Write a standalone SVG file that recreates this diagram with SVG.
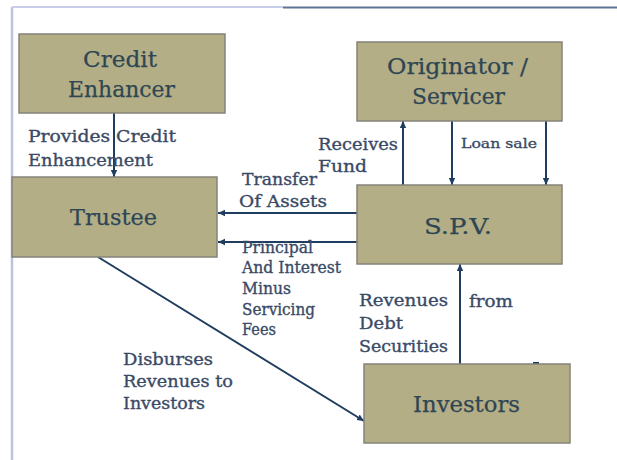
<svg xmlns="http://www.w3.org/2000/svg" width="617" height="460" viewBox="0 0 617 460">
<style>
.box{fill:#b4ae87;stroke:#85837a;stroke-width:1.5}
.bt{font-family:"DejaVu Serif","Liberation Serif",serif;font-size:23px;fill:#2e4653;stroke:#2e4653;stroke-width:0.25;text-anchor:middle}
.lb{font-family:"DejaVu Serif","Liberation Serif",serif;font-size:16px;fill:#3a4a66;stroke:#3a4a66;stroke-width:0.35}
.cn{stroke:#1f3d5e;stroke-width:2;fill:none;marker-end:url(#ah)}
</style>
<defs>
<marker id="ah" markerUnits="userSpaceOnUse" markerWidth="8" markerHeight="8" refX="7" refY="4" orient="auto">
<path d="M0,0.8 L7,4 L0,7.2 z" fill="#1f3d5e"/>
</marker>
</defs>
<rect width="617" height="460" fill="#ffffff"/>
<g id="frame">
<line x1="12" y1="7" x2="12" y2="460" stroke="#bcc3e2" stroke-width="2.5"/>
<line x1="12" y1="7" x2="283" y2="7" stroke="#c9cee8" stroke-width="2"/>
<line x1="283" y1="7.5" x2="617" y2="7.5" stroke="#5f7392" stroke-width="2.2"/>
</g>
<g id="connectors">
<line class="cn" x1="114" y1="113" x2="114" y2="177"/>
<line class="cn" x1="357" y1="213" x2="218" y2="213"/>
<line class="cn" x1="357" y1="242" x2="218" y2="242"/>
<line class="cn" x1="403" y1="185" x2="403" y2="121"/>
<line class="cn" x1="452" y1="121" x2="452" y2="185"/>
<line class="cn" x1="546" y1="121" x2="546" y2="185"/>
<line class="cn" x1="460" y1="364" x2="460" y2="264"/>
<line class="cn" x1="98" y1="257" x2="364" y2="421"/>
<line x1="533" y1="363" x2="539" y2="363" stroke="#1f3d5e" stroke-width="2"/>
</g>
<g id="credit-enhancer">
<rect class="box" x="19" y="34" width="206" height="79"/>
<text class="bt" x="120" y="67" textLength="74" lengthAdjust="spacingAndGlyphs">Credit</text>
<text class="bt" x="121.5" y="97" textLength="107" lengthAdjust="spacingAndGlyphs">Enhancer</text>
</g>
<g id="originator">
<rect class="box" x="357" y="42" width="205" height="79"/>
<text class="bt" x="457.5" y="74" textLength="141" lengthAdjust="spacingAndGlyphs">Originator /</text>
<text class="bt" x="458.5" y="104" textLength="93" lengthAdjust="spacingAndGlyphs">Servicer</text>
</g>
<g id="trustee">
<rect class="box" x="12" y="177" width="205" height="80"/>
<text class="bt" x="113.5" y="225" textLength="87" lengthAdjust="spacingAndGlyphs">Trustee</text>
</g>
<g id="spv">
<rect class="box" x="357" y="185" width="205" height="79"/>
<text class="bt" x="458" y="234" textLength="68" lengthAdjust="spacingAndGlyphs">S.P.V.</text>
</g>
<g id="investors">
<rect class="box" x="364" y="364" width="206" height="79"/>
<text class="bt" x="466.5" y="412" textLength="107" lengthAdjust="spacingAndGlyphs">Investors</text>
</g>
<g id="labels">
<text class="lb" x="28" y="142" textLength="148" lengthAdjust="spacingAndGlyphs">Provides Credit</text>
<text class="lb" x="28" y="166" textLength="125" lengthAdjust="spacingAndGlyphs">Enhancement</text>
<text class="lb" x="318" y="150" textLength="80" lengthAdjust="spacingAndGlyphs">Receives</text>
<text class="lb" x="318" y="172" textLength="49" lengthAdjust="spacingAndGlyphs">Fund</text>
<text class="lb" x="461" y="148" style="font-size:13.5px" textLength="76" lengthAdjust="spacingAndGlyphs">Loan sale</text>
<text class="lb" x="242" y="185" textLength="75" lengthAdjust="spacingAndGlyphs">Transfer</text>
<text class="lb" x="239" y="207" textLength="88" lengthAdjust="spacingAndGlyphs">Of Assets</text>
<text class="lb" x="242" y="253" textLength="71" lengthAdjust="spacingAndGlyphs">Principal</text>
<text class="lb" x="242" y="273" textLength="99" lengthAdjust="spacingAndGlyphs">And Interest</text>
<text class="lb" x="242" y="294" textLength="49" lengthAdjust="spacingAndGlyphs">Minus</text>
<text class="lb" x="242" y="315" textLength="73" lengthAdjust="spacingAndGlyphs">Servicing</text>
<text class="lb" x="242" y="335" textLength="34" lengthAdjust="spacingAndGlyphs">Fees</text>
<text class="lb" x="359" y="306" textLength="89" lengthAdjust="spacingAndGlyphs">Revenues</text>
<text class="lb" x="469" y="307" textLength="44" lengthAdjust="spacingAndGlyphs">from</text>
<text class="lb" x="359" y="329" textLength="44" lengthAdjust="spacingAndGlyphs">Debt</text>
<text class="lb" x="359" y="352" textLength="89" lengthAdjust="spacingAndGlyphs">Securities</text>
<text class="lb" x="123" y="365" textLength="90" lengthAdjust="spacingAndGlyphs">Disburses</text>
<text class="lb" x="123" y="387" textLength="110" lengthAdjust="spacingAndGlyphs">Revenues to</text>
<text class="lb" x="123" y="409" textLength="82" lengthAdjust="spacingAndGlyphs">Investors</text>
</g>
</svg>
